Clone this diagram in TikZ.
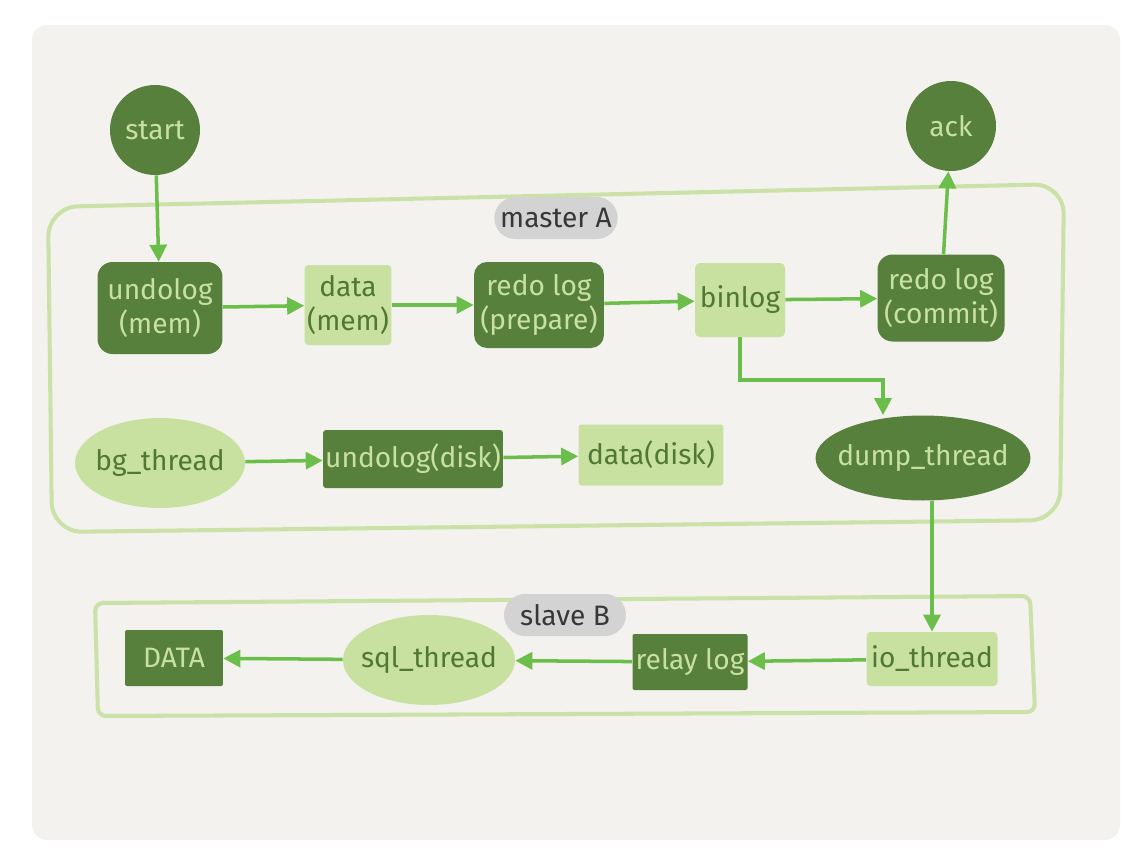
\documentclass[tikz,border=0pt]{standalone}
\usepackage{fontspec}
\setmainfont{Fira Sans}
\usetikzlibrary{arrows.meta,shapes.geometric}
\definecolor{leafdark}{RGB}{87,128,60}
\definecolor{leafpale}{RGB}{200,225,160}
\definecolor{leafink}{RGB}{80,120,52}
\definecolor{flowgreen}{RGB}{108,190,75}
\definecolor{groupgreen}{RGB}{202,226,168}
\definecolor{paper}{RGB}{243,242,238}
\definecolor{pillgray}{RGB}{211,211,211}
\definecolor{pillink}{RGB}{55,55,55}
\tikzset{
  darknode/.style={fill=leafdark, text=leafpale, inner sep=0pt, align=center, font=\fontsize{16}{19}\selectfont},
  palenode/.style={fill=leafpale, text=leafink, inner sep=0pt, align=center, font=\fontsize{16}{19}\selectfont},
  oval/.style={ellipse, inner xsep=-0.5cm, inner ysep=0pt},
  flow/.style={draw=flowgreen, line width=2pt, -{Triangle[length=0.34cm,width=0.34cm]}},
  groupline/.style={draw=groupgreen, line width=2.3pt},
  pill/.style={fill=pillgray, text=pillink, rounded corners=0.42cm, minimum width=2.44cm, minimum height=0.84cm, font=\fontsize{16}{19}\selectfont}
}
\begin{document}
\begin{tikzpicture}[x=0.02cm,y=-0.02cm]
  \useasboundingbox (0,0) rectangle (1138,856);
  \fill[white] (0,0) rectangle (1138,856);
  \fill[paper, rounded corners=0.3cm] (32,25) rectangle (1120,840);

  % master A and slave B
  \draw[groupline, rounded corners=0.6cm] (48,207) -- (1064,184) -- (1060,520) -- (52,532) -- cycle;
  \draw[groupline, rounded corners=0.16cm] (95,603) -- (1030,596) -- (1035,712) -- (98,716) -- cycle;
  \node[pill] (labelA) at (556,218) {master A};
  \node[pill] (labelB) at (565,615) {slave B};

  % top row
  \node[darknode, circle, minimum size=1.8cm] (start) at (155,130) {start};
  \node[darknode, circle, minimum size=1.8cm] (ack) at (951,126) {ack};
  \node[darknode, rounded corners=0.3cm, minimum width=2.5cm, minimum height=1.84cm] (undomem) at (160,308) {undolog\\(mem)};
  \node[palenode, rounded corners=0.08cm, minimum width=1.74cm, minimum height=1.6cm] (datamem) at (348,305) {data\\(mem)};
  \node[darknode, rounded corners=0.26cm, minimum width=2.6cm, minimum height=1.72cm] (redoprep) at (539,305) {redo log\\(prepare)};
  \node[palenode, rounded corners=0.1cm, minimum width=1.8cm, minimum height=1.48cm] (binlog) at (740,300) {binlog};
  \node[darknode, rounded corners=0.3cm, minimum width=2.54cm, minimum height=1.74cm] (redocommit) at (941,298) {redo log\\(commit)};

  % background thread row
  \node[palenode, oval, minimum width=3.4cm, minimum height=1.8cm] (bgthread) at (160,463) {bg\_thread};
  \node[darknode, rounded corners=0.06cm, minimum width=3.6cm, minimum height=1.16cm] (undodisk) at (413,459) {undolog(disk)};
  \node[palenode, rounded corners=0.06cm, minimum width=2.9cm, minimum height=1.22cm] (datadisk) at (651,455) {data(disk)};
  \node[darknode, oval, minimum width=4.3cm, minimum height=1.7cm] (dump) at (923,458) {dump\_thread};

  % slave row
  \node[darknode, rounded corners=0.04cm, minimum width=1.96cm, minimum height=1.12cm] (DATA) at (174,658) {DATA};
  \node[palenode, oval, minimum width=3.44cm, minimum height=1.8cm] (sqlthread) at (429,660) {sql\_thread};
  \node[darknode, rounded corners=0.04cm, minimum width=2.3cm, minimum height=1.12cm] (relaylog) at (690,662) {relay log};
  \node[palenode, rounded corners=0.08cm, minimum width=2.62cm, minimum height=1.08cm] (iothread) at (932,659) {io\_thread};

  \coordinate (bend) at (883,380);

  % arrows
  \draw[flow] (start) -- (undomem);
  \draw[flow] (undomem) -- (datamem);
  \draw[flow] (datamem) -- (redoprep);
  \draw[flow] (redoprep) -- (binlog);
  \draw[flow] (binlog) -- (redocommit);
  \draw[flow] (redocommit) -- (ack);
  \draw[flow] (binlog.south) |- (bend) -- (bend |- dump.north);
  \draw[flow] (bgthread) -- (undodisk);
  \draw[flow] (undodisk) -- (datadisk);
  \draw[flow] (iothread.north |- dump.south) -- (iothread.north);
  \draw[flow] (iothread) -- (relaylog);
  \draw[flow] (relaylog) -- (sqlthread);
  \draw[flow] (sqlthread) -- (DATA);
\end{tikzpicture}
\end{document}
